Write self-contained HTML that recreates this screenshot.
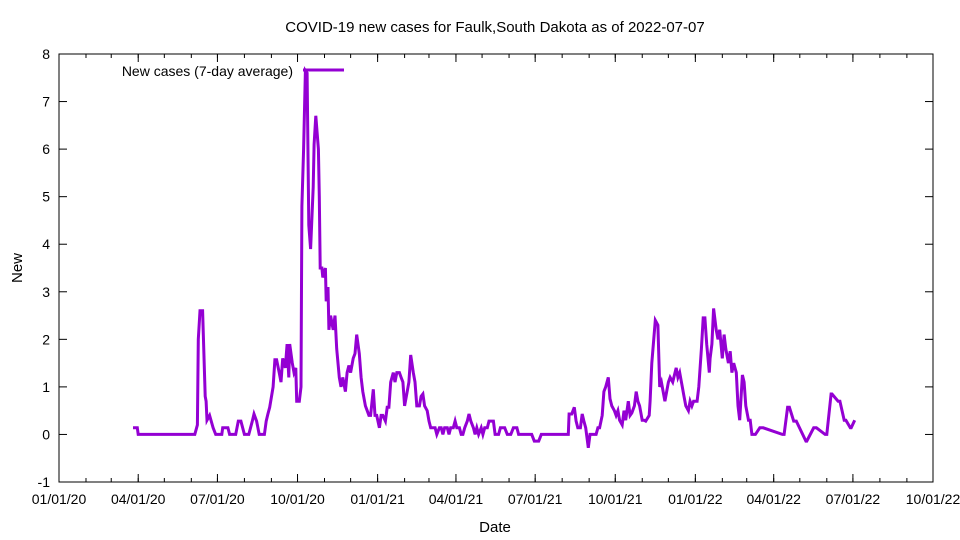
<!DOCTYPE html>
<html><head><meta charset="utf-8"><style>
body{margin:0;background:#fff}
svg{display:block;font-family:"Liberation Sans",sans-serif}
</style></head><body>
<svg id="chart" width="960" height="540" viewBox="0 0 960 540">
<rect width="960" height="540" fill="#fff"/>
<text x="495" y="32" font-size="15" text-anchor="middle">COVID-19 new cases for Faulk,South Dakota as of 2022-07-07</text>
<text x="495" y="532" font-size="15" text-anchor="middle">Date</text>
<text transform="translate(22,268) rotate(-90)" font-size="15" text-anchor="middle">New</text>
<g id="axes"></g>
<g id="series"></g>
<g>
<text x="293" y="76" font-size="14" text-anchor="end">New cases (7-day average)</text>
<line x1="303" y1="70" x2="344" y2="70" stroke="#9400d3" stroke-width="3"/>
</g>
</svg>
<script>
// days since 2020-01-01
const days=[85,90,91,156,159,160,162,165,168,169,170,173,177,180,187,188,194,196,203,206,209,213,218,222,224,227,230,236,238,240,242,246,248,250,253,255,257,260,262,264,265,268,270,272,273,276,278,279,281,283,285,287,289,292,293,295,298,299,300,302,303,306,307,309,310,312,315,317,319,322,324,326,329,331,333,335,338,340,342,345,347,349,352,354,356,358,361,363,365,368,370,372,375,377,379,381,384,386,388,391,393,395,397,400,402,404,407,409,411,414,416,418,420,423,425,427,430,432,434,437,439,441,443,446,448,450,453,455,457,460,462,464,466,469,471,473,476,478,480,482,485,487,489,492,494,499,501,505,507,512,515,519,522,526,528,543,546,551,554,585,586,589,592,594,596,599,601,603,605,608,610,617,619,621,624,626,628,631,633,635,638,640,642,644,647,649,651,654,656,658,661,663,665,667,670,672,674,678,679,681,685,688,690,692,696,700,702,705,709,711,713,716,718,720,723,725,727,729,733,735,738,740,742,744,747,748,750,752,755,757,759,762,764,766,769,771,773,775,778,780,782,785,787,789,792,794,796,800,805,809,831,833,837,839,844,847,858,859,867,870,880,882,887,888,895,897,902,904,909,910,914,917];
const cases=[0.14,0.14,0,0,0.2,2,2.6,2.6,0.8,0.7,0.3,0.4,0.14,0,0,0.14,0.14,0,0,0.28,0.28,0,0,0.28,0.43,0.28,0,0,0.28,0.43,0.57,1.0,1.57,1.57,1.3,1.1,1.6,1.4,1.9,1.2,1.9,1.5,1.3,1.4,0.7,0.7,1.0,4.8,6.0,7.65,7.6,4.4,3.9,5.2,6.1,6.7,6.0,5.0,3.5,3.5,3.3,3.5,2.8,3.1,2.2,2.5,2.2,2.5,1.8,1.2,1.0,1.2,0.9,1.3,1.45,1.3,1.6,1.7,2.1,1.7,1.2,0.9,0.6,0.5,0.4,0.4,0.95,0.4,0.4,0.14,0.4,0.4,0.28,0.57,0.57,1.1,1.3,1.1,1.3,1.3,1.2,1.1,0.6,0.9,1.1,1.67,1.3,1.1,0.6,0.6,0.8,0.85,0.6,0.5,0.28,0.14,0.14,0.14,0,0.14,0.14,0,0.14,0.14,0,0.14,0.14,0.28,0.14,0.14,0,0,0.14,0.28,0.43,0.28,0.14,0,0.14,0,0.14,0,0.14,0.14,0.28,0.28,0,0,0.14,0.14,0,0,0.14,0.14,0,0,-0.14,-0.14,0,0,0.43,0.43,0.57,0.28,0.14,0.14,0.43,0.28,0.14,-0.28,0,0,0.14,0.14,0.4,0.9,1.0,1.2,0.75,0.6,0.5,0.4,0.5,0.3,0.2,0.5,0.3,0.7,0.4,0.45,0.6,0.9,0.7,0.6,0.3,0.3,0.28,0.4,0.7,1.5,2.4,2.3,1.0,1.1,0.7,1.1,1.2,1.1,1.4,1.2,1.3,1.0,0.8,0.6,0.5,0.7,0.6,0.7,0.7,1.0,1.8,2.45,2.45,1.9,1.3,1.6,1.9,2.65,2.2,2.0,2.2,1.6,2.1,1.8,1.5,1.75,1.3,1.5,1.3,0.6,0.3,1.25,1.1,0.6,0.3,0.3,0,0,0.14,0.14,0,0,0.57,0.57,0.28,0.28,-0.14,-0.14,0.14,0.14,0,0,0.85,0.85,0.7,0.7,0.3,0.3,0.14,0.14,0.3];
const yTicks=[-1,0,1,2,3,4,5,6,7,8];
const xTickDays=[0,91,182,274,366,456,547,639,731,821,912,1004];
const xTickLabels=["01/01/20","04/01/20","07/01/20","10/01/20","01/01/21","04/01/21","07/01/21","10/01/21","01/01/22","04/01/22","07/01/22","10/01/22"];
const monthDays=[0,31,60,91,121,152,182,213,244,274,305,335,366,397,425,456,486,517,547,578,609,639,670,700,731,762,790,821,851,882,912,943,974,1004];

const L=59,R=933,T=54,B=482,NS="http://www.w3.org/2000/svg";
const xs=d=>L+(d/1004)*(R-L);
const ys=v=>B-(v+1)/9*(B-T);
function mk(tag,attrs,parent){const e=document.createElementNS(NS,tag);for(const k in attrs)e.setAttribute(k,attrs[k]);parent.appendChild(e);return e;}
const ax=document.getElementById('axes');
const frame=mk('rect',{x:L,y:T,width:R-L,height:B-T,fill:'none',stroke:'#000','stroke-width':1},ax);


yTicks.forEach(v=>{
  const y=ys(v);
  const t1=mk('line',{x1:L,x2:L+8,y1:y,y2:y,stroke:'#000'},ax);
  
  
  const t2=mk('line',{x1:R-8,x2:R,y1:y,y2:y,stroke:'#000'},ax);
  
  
  const tx=mk('text',{x:L-9,y:y+5,'font-size':14,'text-anchor':'end'},ax);
  tx.textContent=v;
  
  
});
monthDays.forEach(d=>{
  const x=xs(d);
  const a=mk('line',{x1:x,x2:x,y1:B,y2:B-4,stroke:'#000'},ax);
  
  
  const b=mk('line',{x1:x,x2:x,y1:T,y2:T+4,stroke:'#000'},ax);
  
  
});
xTickDays.forEach((d,i)=>{
  const x=xs(d);
  const a=mk('line',{x1:x,x2:x,y1:B,y2:B-8,stroke:'#000'},ax);
  
  
  const b=mk('line',{x1:x,x2:x,y1:T,y2:T+8,stroke:'#000'},ax);
  
  
  const tx=mk('text',{x:x,y:B+22,'font-size':14,'text-anchor':'middle'},ax);
  tx.textContent=xTickLabels[i];
  
  
});
const pts=days.map((d,i)=>xs(d).toFixed(1)+','+ys(cases[i]).toFixed(1)).join(' ');
const line=mk('polyline',{points:pts,fill:'none',stroke:'#9400d3','stroke-width':3,'stroke-linejoin':'miter'},document.getElementById('series'));


</script>
</body></html>
